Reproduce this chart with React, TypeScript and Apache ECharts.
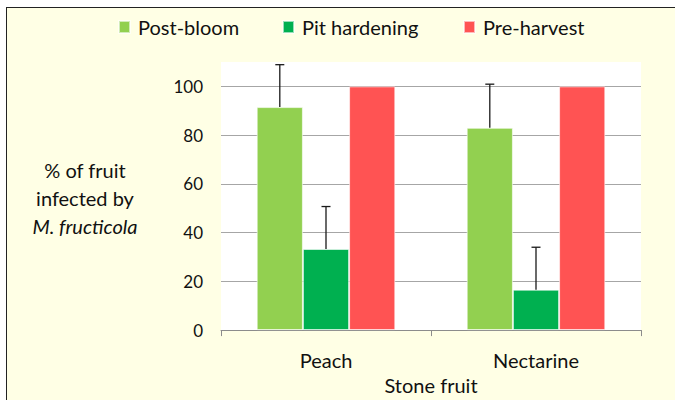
import React, { useEffect, useRef } from "react";
import * as echarts from "echarts";

const categories = ["Peach", "Nectarine"];
const seriesNames = ["Post-bloom", "Pit hardening", "Pre-harvest"];
const postBloom = [91.5, 83];
const pitHardening = [33.3, 16.6];
const preHarvest = [100, 100];
const postBloomErr = [17.4, 17.9];
const pitHardeningErr = [17.4, 17.4];
const yTicks = { min: 0, max: 110, interval: 20 };
const yTitle = ["% of fruit", "infected by", "M. fructicola"];
const xTitle = "Stone fruit";

const colors = ["#92D050", "#00B050", "#FF5353"];
const FONT = "Lato";
const BAR_GAP = 0.34;

export default function App() {
  const ref = useRef<HTMLDivElement>(null);
  useEffect(() => {
    if (!ref.current) return;
    const chart = echarts.init(ref.current, null, { renderer: "svg" });
    const values = [postBloom, pitHardening, preHarvest];
    const errs = [postBloomErr, pitHardeningErr];
    const errData: number[][] = [];
    errs.forEach((arr, s) => arr.forEach((e, c) => errData.push([c, values[s][c], e, s])));
    const legendLefts = [118, 282, 463];
    const option: any = {
      animation: false,
      backgroundColor: "transparent",
      textStyle: { fontFamily: FONT },
      legend: seriesNames.map((n, i) => ({
        data: [n],
        left: legendLefts[i],
        top: 17,
        icon: "rect",
        itemWidth: 11,
        itemHeight: 12,
        padding: 0,
        textStyle: { fontFamily: FONT, fontSize: 20, color: "#111", lineHeight: 20, padding: [0, 0, 0, 3] },
      })),
      grid: {
        left: 221,
        right: 34,
        top: 62,
        bottom: 67,
        show: true,
        backgroundColor: "#ffffff",
        borderWidth: 0,
      },
      xAxis: {
        type: "category",
        data: categories,
        name: xTitle,
        nameLocation: "middle",
        nameGap: 44,
        nameTextStyle: { fontFamily: FONT, fontSize: 20, color: "#111" },
        axisLine: { lineStyle: { color: "#8c8c8c", width: 1 } },
        axisTick: { show: true, length: 6, lineStyle: { color: "#8c8c8c" } },
        axisLabel: { fontFamily: FONT, fontSize: 20, color: "#111", margin: 20 },
      },
      yAxis: {
        type: "value",
        min: yTicks.min,
        max: yTicks.max,
        interval: yTicks.interval,
        axisLine: { show: false },
        axisTick: { show: false },
        axisLabel: { fontFamily: FONT, fontSize: 17, color: "#111", margin: 18, showMaxLabel: false },
        splitLine: {
          show: true,
          lineStyle: {
            color: ["#a6a6a6", "#a6a6a6", "#a6a6a6", "#a6a6a6", "#a6a6a6", "#a6a6a6", "rgba(0,0,0,0)"],
            width: 1,
          },
        },
      },
      graphic: yTitle.map((t, i) => ({
        type: "text",
        x: 85,
        y: 170 + i * 28,
        style: {
          text: t,
          fontFamily: FONT,
          fontSize: 20,
          fontStyle: i === 2 ? "italic" : "normal",
          fill: "#111",
          align: "center",
          verticalAlign: "middle",
        },
      })),
      series: [
        ...seriesNames.map((n, i) => ({
          type: "bar",
          name: n,
          data: values[i],
          barGap: "0%",
          barCategoryGap: BAR_GAP * 100 + "%",
          itemStyle: { color: colors[i], borderColor: "rgba(255,255,255,0.6)", borderWidth: 1 },
        })),
        {
          type: "custom",
          name: "err",
          data: errData,
          z: 10,
          renderItem: (params: any, api: any) => {
            const c = api.value(0);
            const v = api.value(1);
            const e = api.value(2);
            const s = api.value(3);
            const catW = api.size([1, 0])[0];
            const barW = (catW * (1 - BAR_GAP)) / 3;
            const base = api.coord([c, v]);
            const top = api.coord([c, v + e]);
            const x = base[0] + (s - 1) * barW;
            const cap = 4.5;
            const st = { stroke: "#1a1a1a", lineWidth: 1.3 };
            return {
              type: "group",
              children: [
                { type: "line", shape: { x1: x, y1: base[1], x2: x, y2: top[1] }, style: st },
                { type: "line", shape: { x1: x - cap, y1: top[1], x2: x + cap, y2: top[1] }, style: st },
              ],
            };
          },
        },
      ],
    };
    chart.setOption(option);
    return () => chart.dispose();
  }, []);
  return (
    <div style={{ position: "fixed", left: 0, top: 0, width: 675, height: 400, background: "#fff", overflow: "hidden" }}>
      <div
        style={{
          position: "absolute",
          left: 6,
          top: 7,
          width: 720,
          height: 440,
          borderLeft: "1.5px solid #222",
          borderTop: "1.5px solid #222",
          background: "#FFFFE5",
        }}
      />
      <div ref={ref} style={{ position: "absolute", left: 0, top: 0, width: 675, height: 400 }} />
    </div>
  );
}
